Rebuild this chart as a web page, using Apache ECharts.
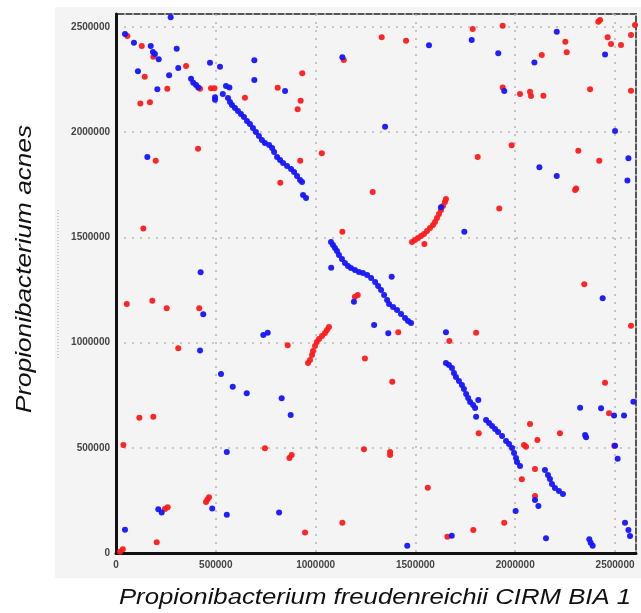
<!DOCTYPE html>
<html>
<head>
<meta charset="utf-8">
<script src="https://cdn.jsdelivr.net/npm/echarts@6/dist/echarts.min.js"></script>
<style>
html,body{margin:0;padding:0;background:#fff;}
#c{width:641px;height:613px;}
</style>
</head>
<body>
<div id="c"></div>
<script>
// ---- data (positions on P. freudenreichii genome [x] vs P. acnes genome [y]) ----
var xTitle = 'Propionibacterium freudenreichii CIRM BIA 1';
var yTitle = 'Propionibacterium acnes';
var xMax = 2605000, yMax = 2562000, tickStep = 500000;

// blue (forward) long collinear blocks
var blueBlock1 = [[561000,2163000],[571000,2144000],[581000,2129000],[596000,2115000],[611000,2101000],[626000,2087000],[641000,2072000],[656000,2053000],[671000,2039000],[686000,2020000],[701000,2001000],[716000,1982000],[731000,1963000],[746000,1949000],[767000,1939000],[782000,1925000],[792000,1906000],[807000,1882000],[822000,1868000],[837000,1854000],[857000,1839000],[877000,1825000],[892000,1811000],[907000,1792000],[922000,1773000],[932000,1763000],[937000,1702000],[952000,1687000]];
var blueBlock2 = [[1077000,1478000],[1087000,1464000],[1097000,1450000],[1107000,1435000],[1117000,1416000],[1132000,1397000],[1147000,1378000],[1162000,1364000],[1177000,1355000],[1197000,1345000],[1217000,1336000],[1237000,1331000],[1258000,1321000],[1278000,1307000],[1298000,1288000],[1313000,1269000],[1328000,1250000],[1343000,1226000],[1358000,1203000],[1368000,1183000],[1388000,1169000],[1408000,1155000],[1428000,1136000],[1448000,1117000],[1463000,1103000],[1478000,1093000]];
var blueBlock3 = [[1653000,903000],[1668000,894000],[1683000,879000],[1693000,856000],[1703000,837000],[1718000,818000],[1733000,799000],[1743000,779000],[1754000,756000],[1764000,737000],[1774000,718000],[1789000,703000],[1799000,689000],[1854000,632000],[1869000,618000],[1884000,604000],[1899000,589000],[1914000,575000],[1934000,556000],[1954000,532000],[1969000,518000],[1984000,499000],[1994000,475000],[2004000,452000],[2009000,433000],[2024000,414000]];
var blueBlock4 = [[2149000,395000],[2164000,371000],[2174000,352000],[2184000,328000],[2199000,309000],[2219000,295000],[2239000,280000]];
// blue isolated matches
var blueScattered = [[274000,2546000],[45000,2467000],[90000,2425000],[174000,2410000],[185000,2381000],[195000,2372000],[214000,2347000],[304000,2397000],[110000,2290000],[266000,2271000],[312000,2305000],[207000,2204000],[376000,2254000],[387000,2235000],[401000,2224000],[412000,2213000],[471000,2330000],[521000,2311000],[693000,2342000],[693000,2248000],[551000,2220000],[568000,2213000],[535000,2182000],[496000,2166000],[496000,2155000],[847000,2196000],[157000,1882000],[424000,1334000],[1134000,2356000],[1568000,2413000],[1348000,2026000],[1628000,1643000],[1745000,1527000],[1078000,1356000],[1381000,1313000],[1293000,1084000],[1364000,1044000],[1653000,1049000],[875000,656000],[1459000,35000],[1682000,82000],[1192000,1194000],[437000,1135000],[738000,1036000],[760000,1047000],[421000,963000],[526000,851000],[585000,790000],[655000,759000],[830000,735000],[555000,480000],[212000,208000],[229000,193000],[482000,212000],[555000,182000],[817000,193000],[45000,111000],[1782000,2438000],[2208000,2478000],[1915000,2375000],[2096000,2332000],[2450000,2370000],[1945000,2196000],[2500000,2006000],[2567000,1876000],[2121000,1833000],[2208000,1792000],[2562000,1771000],[2438000,1211000],[2592000,719000],[2325000,691000],[2430000,688000],[2495000,653000],[2545000,653000],[2350000,561000],[2355000,550000],[1815000,727000],[1804000,648000],[2500000,510000],[2513000,448000],[2099000,252000],[2116000,223000],[2002000,200000],[2154000,70000],[2371000,65000],[2378000,49000],[2388000,35000],[2550000,144000],[2567000,109000],[2575000,81000]];

// red (reverse) blocks
var redBlock1 = [[1483000,1478000],[1498000,1488000],[1513000,1497000],[1528000,1507000],[1543000,1516000],[1558000,1530000],[1573000,1545000],[1588000,1559000],[1598000,1573000],[1608000,1592000],[1618000,1611000],[1628000,1630000],[1638000,1649000],[1648000,1668000],[1653000,1683000]];
var redBlock2 = [[962000,903000],[972000,917000],[982000,941000],[987000,960000],[997000,984000],[1006000,1003000],[1017000,1017000],[1032000,1031000],[1047000,1046000],[1057000,1060000],[1067000,1074000]];
// red isolated matches
var redScattered = [[57000,2457000],[129000,2410000],[187000,2359000],[144000,2264000],[257000,2207000],[351000,2315000],[421000,2207000],[476000,2209000],[493000,2209000],[122000,2137000],[170000,2142000],[646000,2164000],[810000,2212000],[411000,1922000],[199000,1865000],[823000,1760000],[137000,1543000],[933000,2280000],[925000,2150000],[910000,2109000],[923000,1865000],[1331000,2451000],[1453000,2435000],[1141000,2343000],[1031000,1900000],[1286000,1716000],[1134000,1527000],[1545000,1469000],[1197000,1218000],[1211000,1226000],[1414000,1049000],[1670000,1008000],[860000,987000],[1247000,925000],[1384000,814000],[880000,466000],[869000,452000],[1242000,493000],[1373000,480000],[1373000,466000],[1562000,310000],[1134000,144000],[947000,98000],[1660000,77000],[54000,1183000],[182000,1199000],[254000,1163000],[417000,1163000],[312000,973000],[117000,643000],[187000,648000],[37000,513000],[746000,498000],[466000,265000],[458000,254000],[451000,242000],[259000,217000],[245000,209000],[204000,51000],[34000,18000],[20000,6000],[1787000,2491000],[1937000,2506000],[2416000,2525000],[2425000,2533000],[2600000,2510000],[2463000,2451000],[2480000,2419000],[2530000,2415000],[2580000,2462000],[2251000,2430000],[2258000,2380000],[2133000,2367000],[1937000,2213000],[2024000,2182000],[2074000,2193000],[2079000,2172000],[2141000,2174000],[2375000,2204000],[2580000,2197000],[1982000,1938000],[1812000,1882000],[2316000,1912000],[2421000,1865000],[2305000,1733000],[2300000,1725000],[1920000,1638000],[2346000,1277000],[2580000,1080000],[1804000,1047000],[2450000,809000],[2470000,664000],[2074000,613000],[1817000,569000],[2224000,569000],[2111000,537000],[2054000,505000],[2044000,513000],[2099000,399000],[2033000,350000],[2099000,271000],[1945000,144000],[1790000,109000],[2496000,510000]];

var blueData = blueBlock1.concat(blueBlock2, blueBlock3, blueBlock4, blueScattered);
var redData = redBlock1.concat(redBlock2, redScattered);

var chart = echarts.init(document.getElementById('c'), null, {renderer: 'canvas'});
var plain = function (v) { return String(v); };
var tickLabel = {color: '#444', fontSize: 10, fontWeight: 'bold', fontFamily: 'Liberation Sans', formatter: plain};
var split = {show: true, lineStyle: {color: '#b8b8b8', width: 1.6, type: [2, 6]}};
chart.setOption({
  animation: false,
  backgroundColor: '#ffffff',
  grid: {left: 116, top: 14, right: 5, bottom: 60, show: true, backgroundColor: '#f4f4f4', borderColor: '#555', borderWidth: 2},
  graphic: [
    {type: 'rect', z: -100, silent: true, shape: {x: 55, y: 7, width: 586, height: 571}, style: {fill: '#f4f4f4'}},
    {type: 'line', z: 10, silent: true, shape: {x1: 58, y1: 210, x2: 58, y2: 360}, style: {stroke: '#aaa', lineWidth: 1, lineDash: [1, 2]}},
    {type: 'text', z: 10, silent: true, x: 375, y: 598, scaleX: 1.17,
      style: {text: xTitle, fill: '#111', font: 'italic 22px "Liberation Sans"', textAlign: 'center', textVerticalAlign: 'middle'}},
    {type: 'text', z: 10, silent: true, x: 25, y: 269, rotation: Math.PI / 2, scaleX: 1.19,
      style: {text: yTitle, fill: '#111', font: 'italic 22px "Liberation Sans"', textAlign: 'center', textVerticalAlign: 'middle'}}
  ],
  xAxis: {
    type: 'value', min: 0, max: xMax, interval: tickStep,
    axisLine: {show: true, onZero: false, lineStyle: {color: '#111', width: 3}},
    axisTick: {show: false},
    axisLabel: Object.assign({margin: 7, showMaxLabel: false}, tickLabel),
    splitLine: split
  },
  yAxis: {
    type: 'value', min: 0, max: yMax, interval: tickStep,
    axisLine: {show: true, onZero: false, lineStyle: {color: '#111', width: 3}},
    axisTick: {show: false},
    axisLabel: Object.assign({margin: 6, showMaxLabel: false}, tickLabel),
    splitLine: split
  },
  series: [
    {type: 'scatter', name: 'reverse', data: redData, symbolSize: 6, itemStyle: {color: '#ff1a1a', opacity: 0.95}, z: 3},
    {type: 'scatter', name: 'forward', data: blueData, symbolSize: 6, itemStyle: {color: '#1414ff', opacity: 0.95}, z: 4}
  ]
});
</script>
</body>
</html>
